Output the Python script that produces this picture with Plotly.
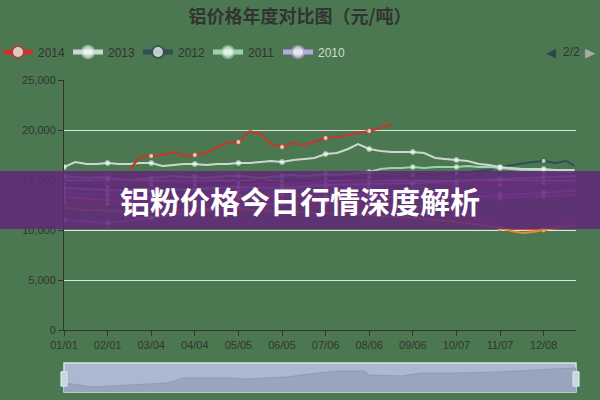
import pandas as pd
import plotly.graph_objects as go

# ---------------- data ----------------
days = pd.date_range("2014-01-01", "2014-12-31").strftime("%m/%d").tolist()
tick_labels = ["01/01", "02/01", "03/04", "04/04", "05/05", "06/05",
               "07/06", "08/06", "09/06", "10/07", "11/07", "12/08"]

# sample dates: 4 per 31-day block
fine_idx = []
for k in range(12):
    offs = (0, 8, 16, 23) if k < 11 else (0, 8, 16, 22)
    fine_idx += [31 * k + o for o in offs]
fine_x = [days[i] for i in fine_idx]
month_x = tick_labels + [days[-1]]

s2014 = [None, None, None, None,
         None, None, 16100, 17300,
         17400, 17500, 17800, 17400,
         17500, 17700, 18300, 18700,
         18800, 19900, 19600, 18600,
         18300, 18700, 18500, 18800,
         19200, 19300, 19500, 19700,
         19900, 20200, 20600, None,
         None, None, None, None, None, None, None, None,
         None, None, None, None, None, None, None, None]
s2013 = [16300, 16800, 16600, 16600,
         16700, 16600, 16600, 16700,
         16700, 16400, 16500, 16600,
         16600, 16500, 16600, 16600,
         16700, 16700, 16800, 16900,
         16800, 17000, 17100, 17200,
         17600, 17700, 18100, 18600,
         18100, 17900, 17800, 17800,
         17800, 17700, 17200, 17100,
         17000, 16900, 16600, 16500,
         16300, 16200, 16100, 16100,
         16100, 16000, 16000, 16000]
s2012 = [14600, 14500, 14400, 14500,
         14300, 14200, 14300, 14400,
         14500, 14600, 14500, 14400,
         14500, 14600, 14700, 14600,
         14700, 14800, 14900, 14800,
         14900, 15000, 14900, 15000,
         15100, 15200, 15300, 15200,
         15300, 15400, 15300, 15400,
         15500, 15600, 15500, 15600,
         15700, 15800, 15900, 16000,
         16300, 16500, 16700, 16800,
         16900, 16700, 16900, 16400]
s2011 = [15400, 15300, 15200, 15300,
         15200, 15100, 15000, 15100,
         15200, 15300, 15400, 15300,
         15300, 15200, 15300, 15400,
         15400, 15300, 15200, 15300,
         15400, 15500, 15400, 15500,
         15600, 15500, 15600, 15700,
         15800, 16100, 16200, 16200,
         16300, 16200, 16300, 16300,
         16300, 16400, 16300, 16300,
         16200, 16100, 16000, 16000,
         15900, 15900, 15800, 15800]
s2010 = [14200, 14000, 13900, 14100, 14300, 14200, 14500,
         14600, 14700, 14900, 15100, 15300, 15400]
# series of legend page 1 (hidden behind the pager)
s2009 = [15200, 15000, 14800, 14900, 14700, 14600, 14800,
         14900, 14700, 14600, 14500, 14700, 14800]
s2008 = [13700, 13500, 13300, 13600, 13900, 14100, 14300,
         14200, 14000, 13900, 13700, 13800, 13900]
s2007 = [13300, 13000, 12800, 13100, 13400, 13500, 13300,
         13600, 13800, 13500, 13200, 13400, 13500]
s2006 = [11000, 10700, 11200, 11800, 12300, 12700, 13000,
         13200, 13400, 13200, 13500, 13700, 14000]
s2005 = [12800, 12600, 12900, 13200, 13100, 12900, 12700,
         12500, 12300, 11800, 10200, 10000, 10900]
s2004 = [12200, 12100, 12000, 12000,
         11900, 11900, 11800, 11800,
         11800, 11900, 11900, 12000,
         12000, 12100, 12100, 12000,
         12100, 12000, 12000, 11900,
         11900, 11800, 11800, 11700,
         11700, 11600, 11600, 11500,
         11500, 11400, 11300, 11300,
         11200, 11100, 11000, 10900,
         10800, 10700, 10500, 10400,
         10200, 9900, 9700, 9800,
         10000, 10200, 10400, 10500]

shadow_x = ["01/01", "01/22", "02/17", "03/16", "03/27", "04/29", "05/10",
            "06/08", "07/01", "07/14", "08/03", "08/06", "08/29", "09/12",
            "10/09", "11/05", "12/02", "12/31"]
shadow_v = [9, 5, 7, 9, 14, 14, 13, 15, 19, 21, 21, 17, 16, 19, 19, 20, 22, 24]

BG = "#4b7850"
FONT = "Liberation Sans, Arial, sans-serif"
CJK = "Noto Sans CJK SC"


def msizes(xs):
    return [5 if x in tick_labels else 0 for x in xs]


def mlines(xs):
    return [1 if x in tick_labels else 0 for x in xs]


fig = go.Figure()

hidden = [("2009", s2009, "#c24a8c"), ("2008", s2008, "#8a5cb8"),
          ("2007", s2007, "#d06a9a"), ("2006", s2006, "#9a90d0"),
          ("2005", s2005, "#c84848")]
for name, vals, col in hidden:
    fig.add_trace(go.Scatter(x=month_x, y=vals, name=name, mode="lines+markers",
                             line=dict(color=col, width=2),
                             marker=dict(color="white", size=msizes(month_x)),
                             showlegend=False, hoverinfo="skip"))
fig.add_trace(go.Scatter(x=fine_x, y=s2004, name="2004", mode="lines",
                         line=dict(color="#e0902a", width=2),
                         showlegend=False, hoverinfo="skip"))

visible = [("2014", s2014, "#c4382c", fine_x),
           ("2013", s2013, "#c9d9d1", fine_x),
           ("2012", s2012, "#2f4f55", fine_x),
           ("2011", s2011, "#9fd0b0", fine_x),
           ("<span style='color:#cfdcd3'>2010</span>", s2010, "#b8a8e0", month_x)]
order = [4, 2, 3, 1, 0]
for i in order:
    name, vals, col, xs = visible[i]
    fig.add_trace(go.Scatter(x=xs, y=vals, name=name, mode="lines+markers",
                             line=dict(color=col, width=2),
                             marker=dict(color="white", size=msizes(xs),
                                         line=dict(width=mlines(xs), color=col)),
                             legendrank=i + 1))

# dataZoom shadow
fig.add_trace(go.Scatter(x=shadow_x, y=shadow_v, xaxis="x2", yaxis="y2",
                         mode="lines", fill="tozeroy",
                         line=dict(color="#8e9db5", width=1),
                         fillcolor="#97a6be", showlegend=False,
                         hoverinfo="skip"))

PL, PT, PW, PH = 64, 80, 512, 312


def px(xp):
    return (xp - PL) / PW


def py(yp):
    return (PT + PH - yp) / PH


fig.update_layout(
    width=600, height=400,
    margin=dict(l=PL, r=24, t=PT, b=8, autoexpand=False),
    paper_bgcolor=BG, plot_bgcolor=BG,
    title=dict(text="<b>铝价格年度对比图（元/吨）</b>", x=0.5, xref="container",
               y=1 - 17 / 400, yref="container", xanchor="center",
               yanchor="middle",
               font=dict(family=CJK, size=18, color="#333333")),
    legend=dict(orientation="h", x=px(-2), xref="paper", y=py(52),
                yref="paper", yanchor="middle", xanchor="left",
                font=dict(family=FONT, size=12, color="#333333"),
                bgcolor="rgba(0,0,0,0)", itemwidth=30, tracegroupgap=0,
                traceorder="normal", itemsizing="constant",
                entrywidth=25, entrywidthmode="pixels"),
    xaxis=dict(type="category", categoryorder="array", categoryarray=days,
               range=[0, len(days) - 1], tickvals=tick_labels,
               ticktext=tick_labels, showgrid=False, showline=True,
               linecolor="#333333", linewidth=1, ticks="outside", ticklen=5,
               tickcolor="#333333", zeroline=False, automargin=False,
               tickfont=dict(family=FONT, size=11, color="#333333"),
               anchor="y"),
    yaxis=dict(domain=[py(330), 1], range=[0, 25000], dtick=5000,
               tickformat=",", showline=True, linecolor="#333333",
               linewidth=1, ticks="outside", ticklen=5, tickcolor="#333333",
               gridcolor="#dde6dd", gridwidth=1, zeroline=False,
               automargin=False,
               tickfont=dict(family=FONT, size=11, color="#333333"),
               anchor="x"),
    xaxis2=dict(type="category", categoryorder="array", categoryarray=days,
                range=[0, len(days) - 1], visible=False, anchor="y2"),
    yaxis2=dict(domain=[0, py(363)], range=[0, 29], visible=False,
                anchor="x2"),
    shapes=[
        dict(type="rect", xref="x2 domain", yref="y2 domain", x0=0, x1=1,
             y0=0, y1=1, fillcolor="#aab8d0", line=dict(color="#d5e2ea", width=1.5),
             layer="below"),
        dict(type="rect", xref="x2 domain", yref="y2 domain", x0=-0.006,
             x1=0.006, y0=0.2, y1=0.7, fillcolor="#c9d5e2",
             line=dict(color="#dfe8ef", width=1)),
        dict(type="rect", xref="x2 domain", yref="y2 domain", x0=0.994,
             x1=1.006, y0=0.2, y1=0.7, fillcolor="#c9d5e2",
             line=dict(color="#dfe8ef", width=1)),
        dict(type="rect", xref="paper", yref="paper", x0=px(0), x1=px(600),
             y0=py(229), y1=py(171), fillcolor="rgba(98,40,122,0.86)",
             line=dict(width=0), layer="above"),
    ],
    annotations=[
        dict(text="<b>铝粉价格今日行情深度解析</b>", xref="paper", yref="paper",
             x=px(300), y=py(200), showarrow=False, xanchor="center",
             yanchor="middle",
             font=dict(family=CJK, size=30, color="white")),
        dict(text="◀", xref="paper", yref="paper", x=px(551), y=py(52),
             showarrow=False, xanchor="center", yanchor="middle",
             font=dict(size=13, color="#2f4554")),
        dict(text="2/2", xref="paper", yref="paper", x=px(571), y=py(52),
             showarrow=False, xanchor="center", yanchor="middle",
             font=dict(family=FONT, size=12, color="#333333")),
        dict(text="▶", xref="paper", yref="paper", x=px(590), y=py(52),
             showarrow=False, xanchor="center", yanchor="middle",
             font=dict(size=13, color="#aaaaaa")),
    ],
)

fig.write_html("out.html", config={"displayModeBar": False},
               post_script="document.body.style.margin='0';"
                           "document.body.style.background='" + BG + "';")
